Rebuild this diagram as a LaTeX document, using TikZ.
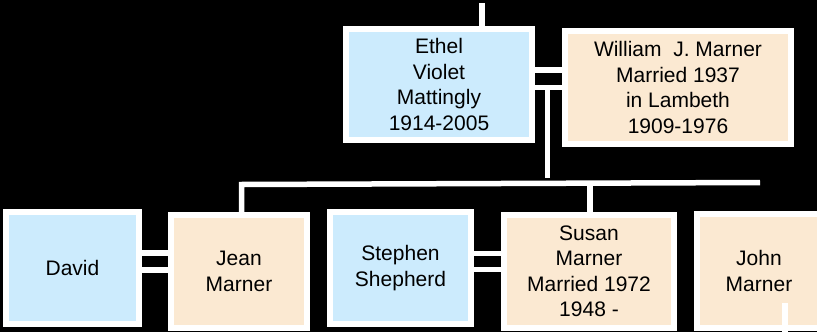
\documentclass[tikz,border=0pt]{standalone}
\usepackage{fontspec}
\setmainfont{Liberation Sans}
\definecolor{mblue}{RGB}{204,235,253}
\definecolor{mpeach}{RGB}{251,233,210}
\begin{document}
\begin{tikzpicture}[x=1pt,y=-1pt,
  person/.style={draw=white, line width=6pt, inner sep=0pt, align=center,
    font=\fontsize{21}{25.5}\selectfont, text=black},
  bluebox/.style={person, fill=mblue},
  peachbox/.style={person, fill=mpeach},
  link/.style={draw=white, line width=5.5pt}]
\fill[black] (0,0) rectangle (817,332);
\useasboundingbox (0,0) rectangle (817,332);
\clip (0,0) rectangle (817,332);

\node[bluebox, minimum width=186pt, minimum height=111pt] (ethel) at (439,84.5)
  {Ethel\\Violet\\Mattingly\\1914-2005};
\node[peachbox, minimum width=226pt, minimum height=113pt] (william) at (678,87.5)
  {William\ \ J. Marner\\Married 1937\\in Lambeth\\1909-1976};
\node[bluebox, minimum width=133pt, minimum height=112pt] (david) at (72.5,268) {David};
\node[peachbox, minimum width=136pt, minimum height=113pt] (jean) at (239,271.5) {Jean\\Marner};
\node[bluebox, minimum width=141pt, minimum height=112pt] (stephen) at (400.5,268) {Stephen\\Shepherd};
\node[peachbox, minimum width=170pt, minimum height=113pt] (susan) at (589,271.5)
  {Susan\\Marner\\Married 1972\\1948 -};
\node[peachbox, minimum width=124pt, minimum height=114pt] (john) at (759,271) {John\\Marner};

% coordinates for connectors
\coordinate (top) at (482,3);
\coordinate (ew1) at (0,70);
\coordinate (ew2) at (0,87.5);
\coordinate (drop) at (547.5,178);
\coordinate (barL) at (241.5,184.5);
\coordinate (barR) at (760,182.5);
\coordinate (sx) at (590,183.5);
\coordinate (dj1) at (0,253);
\coordinate (dj2) at (0,270);
\coordinate (ss1) at (0,253.5);
\coordinate (ss2) at (0,269.5);
\coordinate (jx) at (785,303);
\coordinate (jbot) at (785,336);

\draw[link] (top) -- (top |- ethel.north);
\draw[link] (ethel.east |- ew1) -- (william.west |- ew1);
\draw[link] (ethel.east |- ew2) -- (william.west |- ew2);
\draw[link] (drop |- ew2) -- (drop);
\draw[link] (barL |- jean.north) -- (barL) -- (barR);
\draw[link] (sx) -- (sx |- susan.north);
\draw[link] (david.east |- dj1) -- (jean.west |- dj1);
\draw[link] (david.east |- dj2) -- (jean.west |- dj2);
\draw[link] (stephen.east |- ss1) -- (susan.west |- ss1);
\draw[link] (stephen.east |- ss2) -- (susan.west |- ss2);
\draw[link] (jx) -- (jbot);
\end{tikzpicture}
\end{document}
